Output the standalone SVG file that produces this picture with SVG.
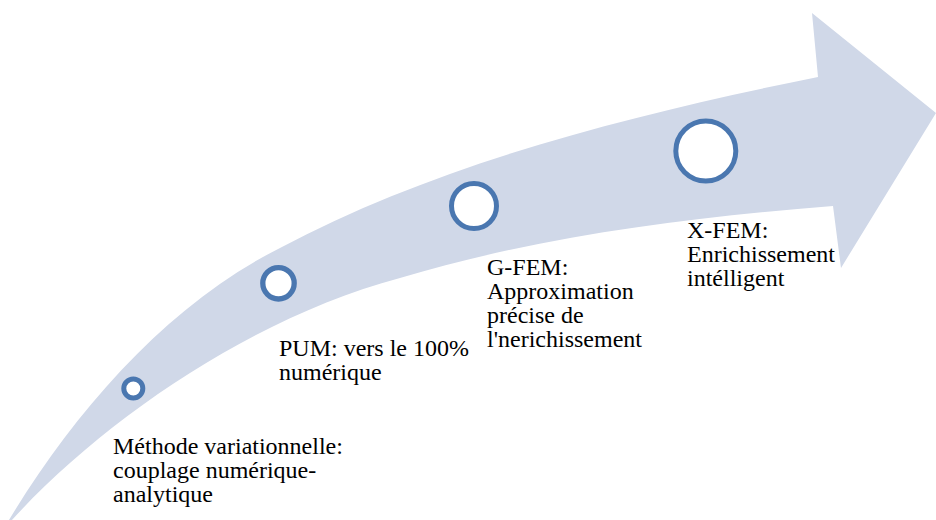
<svg xmlns="http://www.w3.org/2000/svg" width="936" height="520" viewBox="0 0 936 520">
<style>
.band{fill:#D0D8E8;stroke:none}
.dot{fill:#FFFFFF;stroke:#4A77B0}
text{font-family:'Liberation Serif','DejaVu Serif','Times New Roman',serif;font-size:24px;fill:#000000}
</style>
<rect width="936" height="520" fill="#FFFFFF"/>
<g id="connectors">
<path id="timeline-arrow" class="band" d="M 3 530 C 69 418, 164 306, 280 248 C 441 162, 641.5 112.3, 818 77 L 812 13 L 936 113 L 841 268 L 833 206 C 687.5 217.6, 539.8 236.1, 400 278 C 250 318, 95 425, 3 530 Z"/>
</g>
<g id="node-methode-variationnelle">
<circle class="dot" cx="133.3" cy="388.5" r="9.5" stroke-width="5"/>
<text font-family="Liberation Serif, DejaVu Serif, serif" x="113" y="454">Méthode variationnelle:<tspan x="113" y="478">couplage numérique-</tspan><tspan x="113" y="502">analytique</tspan></text>
</g>
<g id="node-pum">
<circle class="dot" cx="278.5" cy="283.3" r="15.7" stroke-width="5.3"/>
<text font-family="Liberation Serif, DejaVu Serif, serif" x="279" y="356">PUM: vers le 100%<tspan x="279" y="380">numérique</tspan></text>
</g>
<g id="node-gfem">
<circle class="dot" cx="474" cy="206" r="22.5" stroke-width="5"/>
<text font-family="Liberation Serif, DejaVu Serif, serif" x="487" y="275">G-FEM:<tspan x="487" y="299">Approximation</tspan><tspan x="487" y="323">précise de</tspan><tspan x="487" y="347">l'nerichissement</tspan></text>
</g>
<g id="node-xfem">
<circle class="dot" cx="705.8" cy="151" r="30" stroke-width="5"/>
<text font-family="Liberation Serif, DejaVu Serif, serif" x="687" y="238">X-FEM:<tspan x="687" y="262">Enrichissement</tspan><tspan x="687" y="286">intélligent</tspan></text>
</g>
</svg>
